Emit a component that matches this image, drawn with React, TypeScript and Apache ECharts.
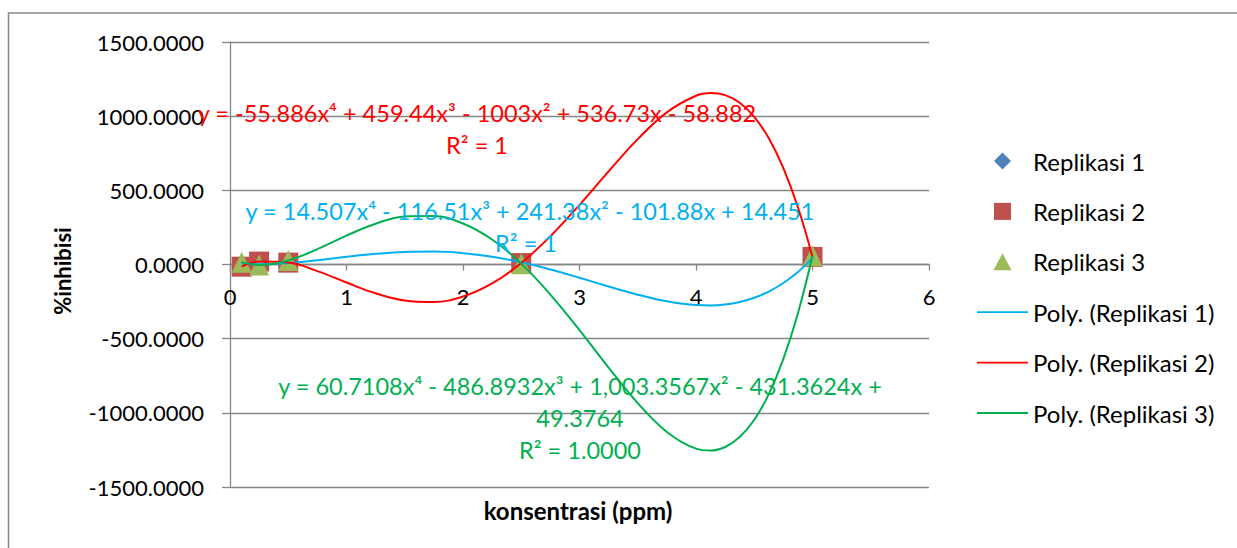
import React, { useEffect, useRef } from "react";
import * as echarts from "echarts";

// Measured points (konsentrasi ppm vs %inhibisi)
const xVals = [0.1, 0.25, 0.5, 2.5, 5];
const rep1 = [6.56, 2.3, 10.2, 14.59, 42.68];
const rep2 = [-14.79, 19.57, 12.67, 9.89, 51.02];
const rep3 = [15.79, -3.13, 27.47, 5.76, 59.08];

// Polynomial trendline samples
const trendX = [0.1, 0.25, 0.5, 0.75, 1, 1.25, 1.5, 1.75, 2, 2.25, 2.5, 2.75, 3, 3.25, 3.5, 3.75, 4, 4.125, 4.25, 4.375, 4.5, 4.625, 4.75, 4.875, 5];
const poly1 = [6.56, 2.3, 10.2, 29.25, 51.95, 72.12, 84.96, 87.03, 76.24, 51.88, 14.59, -33.65, -89.47, -148.16, -203.63, -248.46, -273.84, -276.11, -269.61, -252.85, -224.26, -182.19, -124.91, -50.59, 42.68];
const poly2 = [-14.79, 19.57, 12.67, -44.38, -121.6, -194.26, -242.85, -253.13, -216.08, -127.92, 9.89, 190.66, 402.42, 628.02, 845.02, 1025.77, 1137.38, 1155.54, 1141.71, 1090.29, 995.37, 850.72, 649.76, 385.6, 51.02];
const poly3 = [15.79, -3.13, 27.47, 104.04, 195.19, 275.18, 323.97, 327.23, 276.31, 168.24, 5.76, -202.71, -443.04, -695.44, -934.4, -1128.74, -1241.57, -1254.33, -1230.31, -1163.29, -1046.7, -873.63, -636.79, -328.55, 59.08];

const seriesNames = ["Replikasi 1", "Replikasi 2", "Replikasi 3"];
const trendNames = ["Poly. (Replikasi 1)", "Poly. (Replikasi 2)", "Poly. (Replikasi 3)"];

const eqRep1 = "y = 14.507x⁴ - 116.51x³ + 241.38x² - 101.88x + 14.451";
const r2Rep1 = "R² = 1";
const eqRep2 = "y = -55.886x⁴ + 459.44x³ - 1003x² + 536.73x - 58.882";
const r2Rep2 = "R² = 1";
const eqRep3a = "y = 60.7108x⁴ - 486.8932x³ + 1,003.3567x² - 431.3624x +";
const eqRep3b = "49.3764";
const r2Rep3 = "R² = 1.0000";

const xTitle = "konsentrasi (ppm)";
const yTitle = "%inhibisi";

const FONT = "Lato, 'Open Sans', sans-serif";
const GRAY = "#868686";

const pair = (xs: number[], ys: number[]) => xs.map((x, i) => [x, ys[i]]);

const LINE_ICON = "path://M0,0H51V1.8H0Z";

export default function App() {
  const ref = useRef<HTMLDivElement>(null);
  useEffect(() => {
    if (!ref.current) return;
    const chart = echarts.init(ref.current, undefined, { renderer: "svg" });
    const txt = (text: string, x: number, y: number, color: string, size: number, extra: any = {}) => ({
      type: "text",
      x,
      y,
      z: 100,
      ...extra,
      style: {
        text,
        fill: color,
        font: `${extra.bold ? "bold " : ""}${size}px ${FONT}`,
        textAlign: "center",
        textVerticalAlign: "middle",
      },
    });
    chart.setOption({
      animation: false,
      backgroundColor: "#ffffff",
      grid: { left: 230, right: 308, top: 42, bottom: 61, containLabel: false },
      xAxis: {
        type: "value",
        min: 0,
        max: 6,
        interval: 1,
        position: "bottom",
        offset: -222.5,
        axisLine: { show: true, onZero: false, lineStyle: { color: GRAY, width: 1.3 } },
        axisTick: { show: true, length: 6, lineStyle: { color: GRAY, width: 1.3 } },
        axisLabel: { fontSize: 22, color: "#000", fontFamily: FONT, margin: 21 },
        splitLine: { show: false },
      },
      yAxis: {
        type: "value",
        min: -1500,
        max: 1500,
        interval: 500,
        axisLine: { show: true, onZero: false, lineStyle: { color: GRAY, width: 1.3 } },
        axisTick: { show: true, length: 8, lineStyle: { color: GRAY, width: 1.3 } },
        axisLabel: {
          fontSize: 22,
          color: "#000",
          fontFamily: FONT,
          margin: 26,
          formatter: (v: number) => v.toFixed(4),
        },
        splitLine: { show: true, lineStyle: { color: GRAY, width: 1.3 } },
      },
      legend: {
        orient: "vertical",
        left: 972,
        top: 144,
        itemWidth: 51,
        itemHeight: 17,
        itemGap: 26.4,
        itemStyle: { borderWidth: 0 },
        textStyle: { fontSize: 24, fontFamily: FONT, color: "#000", lineHeight: 22 },
        data: [
          { name: seriesNames[0], icon: "path://M8,0L16,8L8,16L0,8Z" },
          { name: seriesNames[1], icon: "path://M0,0H16V16H0Z" },
          { name: seriesNames[2], icon: "path://M8,0L16,15L0,15Z" },
          { name: trendNames[0], icon: LINE_ICON },
          { name: trendNames[1], icon: LINE_ICON },
          { name: trendNames[2], icon: LINE_ICON },
        ],
      },
      series: [
        {
          name: seriesNames[0],
          type: "scatter",
          symbol: "diamond",
          symbolSize: 16,
          itemStyle: { color: "#4F81BD", opacity: 1 },
          data: pair(xVals, rep1),
          z: 2,
        },
        {
          name: seriesNames[1],
          type: "scatter",
          symbol: "rect",
          symbolSize: 20,
          itemStyle: { color: "#C0504D", opacity: 1 },
          data: pair(xVals, rep2),
          z: 3,
        },
        {
          name: seriesNames[2],
          type: "scatter",
          symbol: "triangle",
          symbolSize: [20, 21],
          itemStyle: { color: "#9BBB59", opacity: 1 },
          data: pair(xVals, rep3),
          z: 4,
        },
        {
          name: trendNames[0],
          type: "line",
          color: "#00B0F0",
          symbol: "none",
          showSymbol: false,
          smooth: 0.4,
          lineStyle: { color: "#00B0F0", width: 2 },
          data: pair(trendX, poly1),
          z: 5,
        },
        {
          name: trendNames[1],
          type: "line",
          color: "#FF0000",
          symbol: "none",
          showSymbol: false,
          smooth: 0.4,
          lineStyle: { color: "#FF0000", width: 2 },
          data: pair(trendX, poly2),
          z: 5,
        },
        {
          name: trendNames[2],
          type: "line",
          color: "#00B050",
          symbol: "none",
          showSymbol: false,
          smooth: 0.4,
          lineStyle: { color: "#00B050", width: 2 },
          data: pair(trendX, poly3),
          z: 5,
        },
      ],
      graphic: [
        {
          type: "rect",
          shape: { x: 8.5, y: 13, width: 1400, height: 700 },
          style: { fill: "none", stroke: GRAY, lineWidth: 1.5 },
          z: -10,
          silent: true,
        },
        txt(eqRep2, 477, 113, "#FF0000", 23.5),
        txt(r2Rep2, 477, 145, "#FF0000", 23.5),
        txt(eqRep1, 530, 211, "#00B0F0", 23.5),
        txt(r2Rep1, 526, 243, "#00B0F0", 23.5),
        txt(eqRep3a, 580, 386, "#00B050", 23.5),
        txt(eqRep3b, 580, 418, "#00B050", 23.5),
        txt(r2Rep3, 580, 450, "#00B050", 23.5),
        txt(xTitle, 578, 510, "#000", 24, { bold: true }),
        txt(yTitle, 62, 271, "#000", 22, { bold: true, rotation: Math.PI / 2 }),
      ],
    });
    return () => chart.dispose();
  }, []);
  return (
    <div
      ref={ref}
      style={{ position: "fixed", left: 0, top: 0, width: 1237, height: 548, background: "#fff" }}
    />
  );
}
